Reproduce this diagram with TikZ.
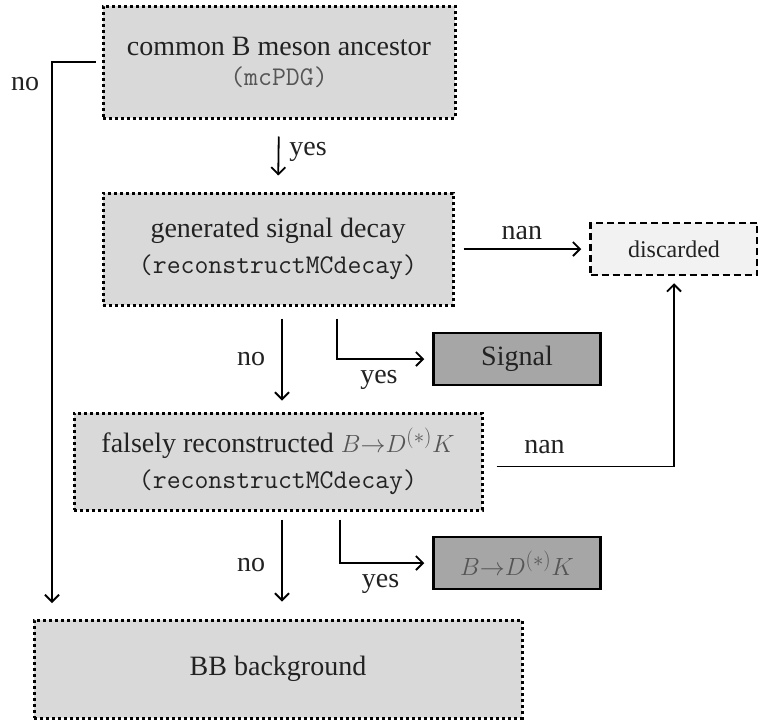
\documentclass[tikz,border=0pt]{standalone}
\usepackage{fontspec}
\setmainfont{Liberation Serif}
\usetikzlibrary{arrows.meta}
\definecolor{boxgray}{HTML}{D9D9D9}
\definecolor{darkbox}{HTML}{A6A6A6}
\definecolor{lightbox}{HTML}{F2F2F2}
\definecolor{txt}{HTML}{222222}
\definecolor{softtxt}{HTML}{555555}
\newcommand{\bdk}{\textcolor{softtxt}{$B{\to}D^{(*)}K$}}
\newcommand{\monotext}[1]{{\fontsize{27}{30}\selectfont\ttfamily #1}}
\begin{document}
\begin{tikzpicture}[x=1pt,y=-1pt,
  every node/.style={font=\fontsize{28}{32}\selectfont, text=txt},
  dotbox/.style={draw=black, fill=boxgray, line width=3pt,
    dash pattern=on 3pt off 3pt, align=center, inner sep=0pt},
  resbox/.style={draw=black, fill=darkbox, line width=2.5pt, inner sep=0pt,
    minimum width=167pt, minimum height=52pt},
  discbox/.style={draw=black, fill=lightbox, line width=2.5pt,
    dash pattern=on 7pt off 4pt, inner sep=0pt,
    minimum width=167pt, minimum height=52pt, font=\fontsize{24}{28}\selectfont},
  arr/.style={draw=black, line width=1.8pt,
    -{Straight Barb[length=7pt,width=14pt,line width=1.8pt]}},
  lbl/.style={inner sep=0pt}
]
\useasboundingbox (0,0) rectangle (758,721);

\node[dotbox, minimum width=352pt, minimum height=112pt] (b1) at (279,62)
  {common B meson ancestor\\[-2pt]\textcolor{softtxt}{\monotext{(mcPDG)}}};
\node[dotbox, minimum width=350pt, minimum height=112pt] (b2) at (278,249)
  {generated signal decay\\[4pt]\monotext{(reconstructMCdecay)}};
\node[dotbox, minimum width=408pt, minimum height=97pt] (b3) at (278,461.5)
  {falsely reconstructed \bdk\\[4pt]\monotext{(reconstructMCdecay)}};
\node[dotbox, minimum width=488pt, minimum height=98pt] (b4) at (278,669)
  {BB background};

\node[discbox] (disc) at (674,249) {discarded};
\node[resbox] (sig) at (517,359) {Signal};
\node[resbox] (res) at (517,563) {\bdk};

\coordinate (noend) at (52,603);

% no from b1 down to b4
\draw[arr, shorten <=6pt] (b1.west) -| node[pos=0.52, left=12pt, lbl] {no} (noend);

% yes b1 -> b2
\draw[arr, shorten <=17pt, shorten >=16pt] (b1.south) -- node[pos=0.45, right=10pt, lbl] {yes} (b2.north);

% nan b2 -> discarded
\draw[arr, shorten <=9pt, shorten >=8pt] (b2.east) -- node[midway, above=8pt, lbl] {nan} (disc.west);

% no b2 -> b3
\draw[arr, shorten <=12pt, shorten >=11pt] ([xshift=4pt]b2.south) -- node[midway, left=16pt, lbl] {no} ([xshift=4pt]b3.north);

% yes b2 -> signal
\draw[arr, shorten <=12pt, shorten >=8pt] ([xshift=59pt]b2.south) |- node[pos=0.72, below=10pt, lbl] {yes} (sig.west);

% nan b3 -> discarded
\draw[arr, shorten <=13pt, shorten >=7pt] ([yshift=-5pt]b3.east) -| node[pos=0.16, above=12pt, lbl] {nan} (disc.south);

% no b3 -> b4
\draw[arr, shorten <=8pt, shorten >=17pt] ([xshift=4pt]b3.south) -- node[midway, left=16pt, lbl] {no} ([xshift=4pt]b4.north);

% yes b3 -> result
\draw[arr, shorten <=8pt, shorten >=8pt] ([xshift=62pt]b3.south) |- node[pos=0.72, below=10pt, lbl] {yes} (res.west);
\end{tikzpicture}
\end{document}
